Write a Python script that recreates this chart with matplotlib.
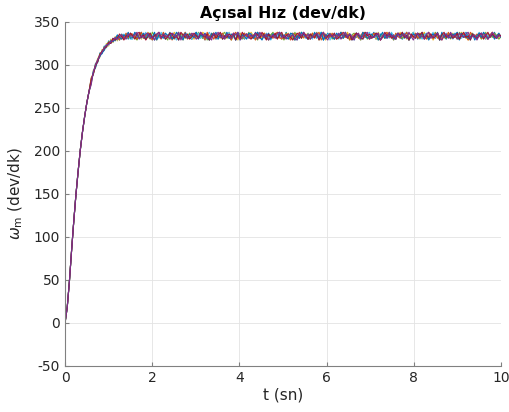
import numpy as np
import matplotlib
matplotlib.use("Agg")
import matplotlib.pyplot as plt

plt.rcParams["axes.unicode_minus"] = False

# Shared initial rise (t = 0 ... 0.55)
t_rise = [0, 0.05, 0.1, 0.15, 0.2, 0.25, 0.3, 0.35, 0.4, 0.45, 0.5, 0.55]
w_rise = [0, 18, 48, 84, 118, 149, 176, 201, 222, 240, 256, 269]

# Per-run end of rise, t = 0.6 ... 1.5 (step 0.05)
e1 = [284, 289, 302, 303, 314, 313, 322, 320, 328, 325, 331, 328, 334, 329, 336, 331, 335, 330, 337]
e2 = [278, 294, 297, 308, 309, 318, 317, 325, 322, 330, 326, 333, 328, 335, 330, 334, 331, 337, 332]
e3 = [283, 290, 301, 304, 313, 314, 321, 321, 327, 326, 330, 329, 333, 330, 335, 333, 336, 331, 334]
e4 = [279, 293, 298, 307, 310, 317, 318, 324, 323, 329, 327, 332, 329, 334, 331, 336, 332, 335, 330]
e5 = [285, 290, 300, 306, 312, 316, 320, 321, 326, 328, 329, 331, 332, 329, 334, 330, 337, 332, 336]
e6 = [280, 292, 297, 305, 310, 314, 317, 323, 324, 328, 327, 330, 335, 332, 330, 335, 333, 338, 331]
e7 = [282, 290, 299, 304, 312, 316, 319, 322, 326, 325, 331, 329, 331, 336, 333, 329, 334, 333, 337]
e8 = [277, 292, 300, 306, 311, 315, 320, 323, 324, 327, 328, 332, 330, 333, 335, 332, 330, 336, 334]

# Per-run steady-state values, t = 1.55 ... 10.0 (step 0.05)
s1 = [333, 336, 331, 335, 338, 332, 330, 334, 337, 333, 329, 335, 332,
      336, 334, 330, 333, 338, 331, 335, 332, 329, 336, 334, 337, 331,
      333, 330, 335, 338, 332, 334, 331, 336, 333, 329, 337, 335, 332,
      330, 334, 336, 333, 338, 331, 332, 335, 329, 334, 337, 333, 330,
      336, 332, 334, 331, 338, 335, 333, 330, 336, 332, 329, 335, 337,
      333, 331, 334, 336, 330, 338, 332, 335, 333, 329, 336, 331, 334,
      337, 332, 330, 335, 333, 338, 331, 336, 334, 329, 333, 337, 332,
      335, 330, 334, 336, 331, 333, 338, 332, 335, 330, 334, 337, 333,
      329, 336, 332, 335, 331, 334, 338, 330, 333, 336, 332, 335, 331,
      337, 334, 329, 333, 336, 332, 330, 335, 338, 331, 334, 333, 336,
      330, 335, 332, 337, 333, 329, 334, 336, 331, 338, 332, 335, 333,
      330, 336, 334, 331, 337, 333, 329, 335, 332, 338, 334, 330, 336,
      333, 331, 335, 337, 332, 334, 330, 336, 333, 338, 331, 335, 333]
s2 = [331, 334, 337, 333, 330, 336, 332, 338, 335, 331, 334, 329, 336,
      333, 337, 332, 335, 330, 334, 338, 331, 333, 336, 329, 335, 332,
      337, 334, 330, 333, 336, 331, 338, 335, 332, 329, 334, 337, 333,
      336, 331, 335, 330, 333, 338, 332, 334, 336, 329, 337, 333, 331,
      335, 332, 338, 334, 330, 336, 333, 331, 337, 335, 329, 334, 332,
      336, 338, 331, 333, 330, 335, 337, 332, 334, 329, 336, 333, 338,
      331, 335, 332, 330, 337, 334, 336, 331, 333, 338, 329, 335, 332,
      334, 336, 330, 333, 337, 331, 335, 338, 332, 334, 330, 336, 333,
      329, 335, 337, 332, 331, 334, 336, 330, 338, 333, 335, 331, 337,
      332, 334, 329, 336, 333, 338, 331, 335, 330, 337, 334, 332, 336,
      333, 330, 335, 338, 331, 334, 336, 329, 333, 337, 332, 335, 331,
      336, 334, 330, 337, 333, 331, 335, 338, 332, 334, 329, 336, 333,
      335, 331, 337, 332, 334, 330, 336, 333, 338, 331, 335, 332, 334]
s3 = [335, 332, 329, 334, 337, 331, 336, 333, 330, 338, 334, 332, 335,
      331, 336, 333, 329, 337, 335, 330, 334, 338, 332, 336, 331, 333,
      337, 330, 335, 332, 338, 334, 331, 336, 329, 333, 335, 337, 330,
      334, 332, 336, 338, 331, 333, 329, 335, 337, 332, 334, 330, 336,
      333, 338, 331, 335, 332, 329, 337, 334, 336, 330, 333, 335, 338,
      332, 331, 334, 336, 329, 337, 333, 335, 330, 338, 332, 334, 331,
      336, 333, 337, 330, 335, 332, 338, 329, 334, 336, 331, 333, 337,
      330, 335, 334, 332, 338, 331, 336, 333, 329, 335, 337, 332, 334,
      331, 336, 338, 330, 333, 335, 332, 337, 329, 334, 336, 331, 333,
      338, 332, 335, 330, 337, 334, 331, 336, 333, 329, 335, 338, 332,
      334, 337, 331, 333, 336, 330, 335, 332, 338, 334, 329, 336, 333,
      331, 335, 337, 332, 334, 330, 338, 333, 336, 331, 335, 329, 337,
      332, 334, 336, 330, 333, 338, 331, 335, 332, 337, 334, 330, 333]
s4 = [330, 337, 333, 336, 331, 334, 338, 332, 335, 329, 333, 336, 331,
      338, 334, 330, 335, 332, 337, 333, 329, 336, 334, 331, 338, 335,
      332, 330, 336, 333, 337, 331, 334, 329, 335, 338, 332, 336, 330,
      333, 337, 335, 331, 334, 338, 330, 332, 336, 333, 329, 335, 337,
      331, 334, 336, 332, 330, 338, 333, 335, 331, 337, 334, 329, 336,
      332, 335, 338, 330, 333, 336, 331, 334, 337, 332, 329, 335, 338,
      333, 331, 336, 334, 330, 337, 332, 335, 338, 331, 333, 336, 329,
      334, 337, 332, 330, 335, 333, 338, 331, 336, 334, 329, 337, 332,
      335, 330, 333, 336, 338, 331, 334, 332, 337, 329, 335, 333, 336,
      331, 338, 334, 330, 336, 332, 335, 337, 333, 329, 334, 338, 331,
      336, 333, 330, 335, 337, 332, 334, 338, 331, 336, 329, 333, 335,
      337, 332, 336, 330, 334, 338, 333, 331, 335, 337, 332, 329, 336,
      334, 331, 338, 333, 336, 330, 335, 332, 337, 334, 331, 336, 333]
s5 = [336, 333, 330, 335, 338, 331, 334, 337, 332, 329, 336, 333, 335,
      330, 338, 334, 332, 336, 329, 333, 337, 335, 331, 334, 338, 330,
      333, 336, 332, 335, 331, 337, 334, 329, 338, 333, 336, 330, 335,
      332, 334, 337, 331, 336, 333, 329, 335, 338, 332, 330, 334, 337,
      333, 336, 331, 335, 329, 338, 332, 334, 337, 330, 336, 333, 331,
      335, 338, 332, 330, 334, 336, 333, 329, 337, 335, 331, 338, 334,
      332, 336, 330, 333, 337, 331, 335, 338, 329, 334, 336, 332, 333,
      337, 330, 335, 331, 338, 334, 332, 336, 329, 333, 335, 337, 331,
      334, 338, 332, 336, 330, 333, 337, 335, 331, 329, 334, 336, 338,
      332, 335, 330, 337, 333, 331, 336, 334, 338, 329, 335, 332, 337,
      331, 334, 336, 333, 330, 338, 335, 332, 337, 331, 334, 329, 336,
      333, 338, 331, 335, 332, 337, 330, 334, 336, 333, 329, 338, 335,
      332, 336, 334, 331, 337, 333, 330, 335, 338, 332, 334, 336, 333]
s6 = [332, 338, 335, 331, 333, 337, 330, 336, 334, 332, 338, 329, 335,
      333, 331, 337, 334, 336, 330, 332, 338, 335, 333, 329, 337, 331,
      336, 334, 332, 338, 330, 335, 333, 337, 331, 329, 336, 334, 338,
      332, 335, 330, 333, 337, 331, 336, 334, 329, 338, 332, 335, 333,
      330, 337, 336, 331, 334, 338, 332, 329, 335, 333, 337, 330, 336,
      334, 331, 338, 333, 335, 332, 330, 337, 336, 329, 334, 331, 338,
      335, 333, 330, 336, 332, 337, 334, 331, 338, 329, 335, 333, 336,
      332, 330, 337, 334, 338, 331, 335, 333, 336, 329, 332, 337, 334,
      330, 338, 335, 331, 333, 336, 332, 337, 329, 334, 338, 331, 335,
      333, 336, 330, 334, 337, 332, 338, 331, 335, 329, 333, 336, 334,
      337, 331, 338, 332, 335, 330, 333, 336, 334, 337, 329, 338, 332,
      335, 333, 331, 336, 334, 338, 330, 337, 332, 335, 331, 333, 336,
      329, 334, 337, 332, 338, 335, 331, 333, 336, 330, 334, 337, 332]
s7 = [334, 330, 336, 338, 332, 335, 329, 333, 337, 331, 334, 336, 338,
      332, 335, 330, 333, 337, 336, 331, 334, 329, 338, 335, 332, 336,
      330, 333, 337, 334, 331, 338, 335, 332, 336, 329, 333, 337, 331,
      335, 338, 330, 334, 332, 336, 333, 337, 329, 335, 331, 338, 334,
      336, 332, 330, 333, 337, 335, 331, 338, 334, 329, 336, 332, 333,
      337, 330, 335, 338, 331, 334, 336, 332, 329, 333, 337, 335, 331,
      338, 334, 330, 336, 333, 332, 337, 329, 335, 338, 331, 334, 336,
      333, 337, 330, 332, 335, 338, 334, 331, 336, 329, 333, 337, 335,
      332, 330, 338, 334, 336, 331, 333, 337, 335, 329, 332, 338, 334,
      336, 331, 333, 330, 337, 335, 338, 332, 334, 329, 336, 333, 331,
      337, 335, 338, 330, 334, 332, 336, 331, 333, 337, 329, 335, 338,
      332, 334, 336, 331, 333, 337, 330, 335, 338, 332, 334, 329, 336,
      333, 331, 335, 337, 330, 334, 338, 332, 336, 333, 331, 335, 334]
s8 = [333, 335, 338, 330, 334, 332, 336, 337, 331, 333, 329, 335, 338,
      331, 336, 333, 334, 330, 337, 335, 332, 338, 329, 334, 336, 331,
      333, 337, 335, 330, 332, 338, 334, 336, 331, 333, 329, 337, 335,
      338, 332, 334, 330, 336, 333, 331, 337, 335, 338, 329, 332, 334,
      336, 331, 335, 333, 337, 330, 338, 334, 332, 336, 329, 333, 335,
      331, 337, 338, 332, 334, 330, 336, 333, 335, 331, 329, 337, 334,
      338, 332, 336, 330, 333, 335, 337, 331, 334, 338, 332, 329, 336,
      333, 335, 331, 337, 330, 334, 338, 332, 336, 333, 329, 335, 337,
      331, 334, 336, 338, 330, 333, 332, 335, 337, 329, 334, 336, 331,
      338, 333, 335, 330, 337, 332, 334, 336, 331, 338, 333, 329, 335,
      337, 332, 334, 330, 336, 338, 331, 333, 335, 337, 332, 329, 334,
      336, 331, 338, 333, 335, 330, 337, 334, 332, 336, 338, 331, 333,
      335, 329, 334, 337, 332, 336, 330, 333, 338, 335, 331, 334, 333]

ends = [e1, e2, e3, e4, e5, e6, e7, e8]
tails = [s1, s2, s3, s4, s5, s6, s7, s8]
colors = ["#0072BD", "#EDB120", "#77AC30", "#4DBEEE", "#D95319", "#0072BD", "#A2142F", "#7E2F8E"]

x_ticks = [0, 2, 4, 6, 8, 10]
y_ticks = [-50, 0, 50, 100, 150, 200, 250, 300, 350]

fig = plt.figure(figsize=(5.10, 4.12), dpi=100)
ax = fig.add_axes([0.1275, 0.1117, 0.855, 0.835])

for end, tail, c in zip(ends, tails, colors):
    t_end = np.linspace(0.6, 1.5, len(end))
    t_tail = np.linspace(1.55, 10.0, len(tail))
    t = np.concatenate([t_rise, t_end, t_tail])
    w = np.concatenate([w_rise, end, tail])
    ax.plot(t, w, color=c, lw=0.8)

ax.set_xlim(0, 10)
ax.set_ylim(-50, 350)
ax.set_xticks(x_ticks)
ax.set_yticks(y_ticks)
ax.grid(True, color="#e3e3e3", lw=0.6)
ax.set_axisbelow(True)
for s in ["top", "right"]:
    ax.spines[s].set_visible(False)
for s in ["left", "bottom"]:
    ax.spines[s].set_color("#808080")
    ax.spines[s].set_linewidth(0.8)
ax.tick_params(direction="in", length=3, color="#808080", labelcolor="#262626", labelsize=10)

ax.set_title("Açısal Hız (dev/dk)", fontsize=11.3, fontweight="bold", pad=3)
ax.set_xlabel("t (sn)", fontsize=11, color="#262626", labelpad=2)
ax.set_ylabel(r"$\omega_{\rm m}$ (dev/dk)", fontsize=11, color="#262626", labelpad=6)

fig.savefig("out.png", dpi=100)
